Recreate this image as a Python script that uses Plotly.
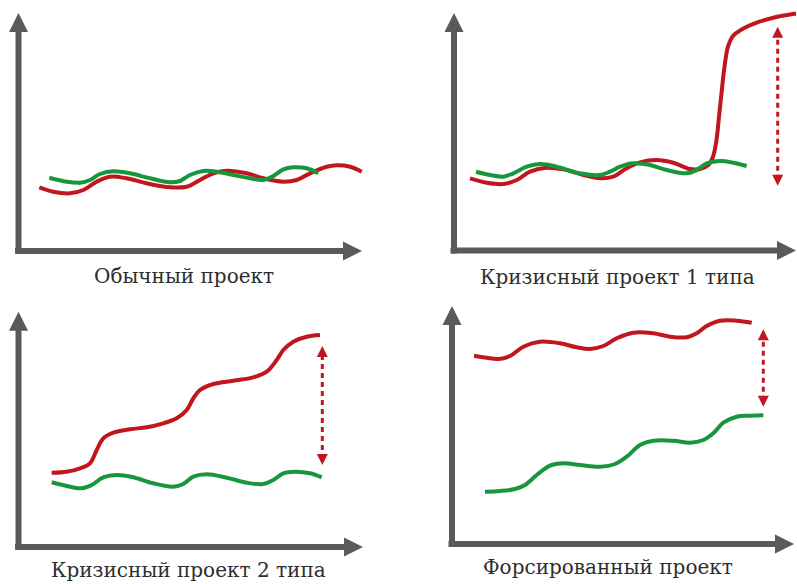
import plotly.graph_objects as go

# ---------------- data (1 unit ~ 1 px from axis origin) ----
# Panel 1: "Обычный проект"
p1_red_x = [20.8, 34.8, 51.5, 64.8, 78.2, 91.5, 108.2, 128.2, 151.5, 168.2, 181.5, 194.8, 208.2, 228.2, 244.8, 264.8, 278.2, 291.5, 308.2, 318.2, 331.5, 343.2]
p1_red_y = [63.7, 59.3, 57.7, 61.0, 69.3, 74.3, 72.7, 67.7, 63.7, 64.3, 71.0, 77.7, 80.3, 77.7, 72.7, 69.3, 71.0, 77.7, 84.3, 85.7, 84.3, 79.3]
p1_green_x = [30.8, 48.2, 61.5, 71.5, 81.5, 94.8, 111.5, 131.5, 151.5, 161.5, 171.5, 184.8, 198.2, 214.8, 231.5, 244.8, 254.8, 264.8, 274.8, 288.2, 299.8]
p1_green_y = [73.3, 69.3, 68.3, 71.0, 77.0, 79.7, 77.7, 72.7, 68.7, 70.0, 76.0, 80.0, 79.3, 76.0, 72.7, 71.0, 75.0, 81.7, 83.7, 82.7, 77.7]

# Panel 2: "Кризисный проект 1 типа"
p2_red_x = [16.0, 32.7, 49.3, 62.7, 76.0, 92.7, 109.3, 129.3, 146.0, 159.3, 172.7, 186.0, 202.7, 219.3, 236.0, 246.0, 254.3, 259.0, 262.5, 265.0, 267.5, 270.5, 274.0, 279.0, 288.0, 302.7, 319.3, 342.0]
p2_red_y = [72.2, 67.8, 66.5, 70.5, 78.8, 82.8, 81.2, 75.5, 72.2, 73.8, 82.2, 88.2, 90.5, 87.8, 81.5, 81.5, 85.5, 93.8, 110.5, 133.8, 157.2, 183.8, 203.8, 214.5, 221.2, 227.8, 232.8, 237.0]
p2_green_x = [22.0, 36.0, 49.3, 59.3, 72.7, 86.0, 102.7, 122.7, 146.0, 156.0, 166.0, 179.3, 196.0, 212.7, 232.7, 242.7, 252.7, 266.0, 279.3, 292.7]
p2_green_y = [78.8, 75.5, 73.8, 77.2, 83.8, 86.5, 83.8, 77.8, 75.5, 78.8, 83.8, 87.2, 85.5, 80.5, 77.2, 80.5, 87.2, 89.5, 87.8, 84.5]
p2_gap_x = [323.7, 323.7]
p2_gap_y = [64.8, 223.8]

# Panel 3: "Кризисный проект 2 типа"
p3_red_x = [33.2, 48.2, 61.5, 71.5, 78.2, 84.8, 94.8, 111.5, 128.2, 144.8, 158.2, 168.2, 174.8, 181.5, 194.8, 214.8, 234.8, 248.2, 258.2, 264.8, 274.8, 288.2, 301.5]
p3_red_y = [74.3, 75.3, 78.7, 83.7, 97.0, 108.7, 114.3, 117.7, 119.7, 123.7, 128.7, 137.0, 148.7, 157.0, 163.0, 166.3, 169.7, 175.3, 187.0, 197.0, 205.3, 210.3, 212.0]
p3_green_x = [33.2, 48.2, 63.2, 73.2, 84.8, 98.2, 114.8, 134.8, 154.8, 164.8, 174.8, 188.2, 208.2, 228.2, 244.8, 254.8, 264.8, 276.5, 291.5, 303.2]
p3_green_y = [64.7, 61.0, 58.7, 62.0, 69.7, 72.0, 69.7, 63.7, 60.3, 63.0, 70.3, 72.7, 69.3, 64.3, 63.0, 67.0, 73.7, 75.3, 73.7, 69.7]
p3_gap_x = [303.8, 303.8]
p3_gap_y = [82.0, 201.0]

# Panel 4: "Форсированный проект"
p4_red_x = [22.0, 34.7, 46.3, 58.0, 71.3, 88.0, 108.0, 124.7, 138.0, 151.3, 164.7, 181.3, 201.3, 218.0, 234.7, 244.7, 254.7, 268.0, 284.7, 299.7]
p4_red_y = [188.3, 186.3, 185.0, 188.0, 197.3, 202.3, 200.7, 196.7, 195.0, 198.0, 205.7, 211.3, 210.7, 207.3, 206.7, 210.7, 218.0, 223.3, 223.3, 221.3]
p4_green_x = [33.0, 48.0, 63.0, 73.0, 84.7, 98.0, 111.3, 128.0, 148.0, 163.0, 174.7, 188.0, 201.3, 221.3, 238.0, 251.3, 261.3, 271.3, 284.7, 298.0, 311.3]
p4_green_y = [52.3, 53.0, 55.0, 59.0, 69.0, 78.3, 80.7, 79.0, 77.3, 80.0, 87.3, 99.0, 103.3, 103.3, 101.3, 104.0, 110.7, 121.3, 127.3, 128.3, 128.7]
p4_gap_x = [311.3, 311.3]
p4_gap_y = [137.3, 214.7]

captions = ["Обычный проект", "Кризисный проект 1 типа", "Кризисный проект 2 типа", "Форсированный проект"]

# ---------------- layout constants ----------------
FW, FH = 797, 584
RED = "#c1161e"
GREEN = "#17963b"
GRAY = "#5a5a5a"
TEXT = "#2e2e2e"

panels = [
    dict(ox=18.5, oy=251.0, xt=362.0, yt=13.0, cx=184, cy=276,
         red=(p1_red_x, p1_red_y), green=(p1_green_x, p1_green_y), gap=None),
    dict(ox=454.0, oy=250.5, xt=796.0, yt=13.0, cx=617, cy=277,
         red=(p2_red_x, p2_red_y), green=(p2_green_x, p2_green_y), gap=(p2_gap_x, p2_gap_y)),
    dict(ox=18.5, oy=547.0, xt=363.0, yt=311.7, cx=188, cy=570,
         red=(p3_red_x, p3_red_y), green=(p3_green_x, p3_green_y), gap=(p3_gap_x, p3_gap_y)),
    dict(ox=452.0, oy=544.0, xt=794.0, yt=306.0, cx=608, cy=567,
         red=(p4_red_x, p4_red_y), green=(p4_green_x, p4_green_y), gap=(p4_gap_x, p4_gap_y)),
]

fig = go.Figure()
layout_axes = {}
annotations = []

for i, p in enumerate(panels, start=1):
    xa = "x" if i == 1 else f"x{i}"
    ya = "y" if i == 1 else f"y{i}"
    ox, oy, xt, yt = p["ox"], p["oy"], p["xt"], p["yt"]
    W, H = xt - ox, oy - yt
    lo_x, hi_x = max(0, ox - 14), min(FW, xt + 4)
    bot_y, top_y = min(FH, oy + 14), max(0, yt - 4)
    axis_common = dict(showgrid=False, zeroline=False, showticklabels=False, ticks="",
                       showline=False, fixedrange=True)
    layout_axes[("xaxis" if i == 1 else f"xaxis{i}")] = dict(
        domain=[lo_x / FW, hi_x / FW], range=[lo_x - ox, hi_x - ox], anchor=ya, **axis_common)
    layout_axes[("yaxis" if i == 1 else f"yaxis{i}")] = dict(
        domain=[1 - bot_y / FH, 1 - top_y / FH], range=[oy - bot_y, oy - top_y], anchor=xa, **axis_common)

    # axes with arrowheads
    fig.add_trace(go.Scatter(x=[0, 0], y=[-3, H - 12], xaxis=xa, yaxis=ya, mode="lines",
                             line=dict(color=GRAY, width=6), hoverinfo="skip", showlegend=False))
    fig.add_trace(go.Scatter(x=[-3.5, W - 12], y=[0, 0], xaxis=xa, yaxis=ya, mode="lines",
                             line=dict(color=GRAY, width=6), hoverinfo="skip", showlegend=False))
    fig.add_trace(go.Scatter(x=[0, W], y=[H, 0], xaxis=xa, yaxis=ya, mode="markers",
                             marker=dict(symbol=["arrow-up", "arrow-right"], size=19, color=GRAY),
                             cliponaxis=False, hoverinfo="skip", showlegend=False))

    rx, ry = p["red"]
    gx, gy = p["green"]
    if i in (1, 2):
        order = [(rx, ry, RED), (gx, gy, GREEN)]
    else:
        order = [(gx, gy, GREEN), (rx, ry, RED)]
    for cx_, cy_, col in order:
        fig.add_trace(go.Scatter(x=cx_, y=cy_, xaxis=xa, yaxis=ya, mode="lines",
                                 line=dict(color=col, width=4, shape="spline", smoothing=1.0),
                                 hoverinfo="skip", showlegend=False))

    if p["gap"] is not None:
        gpx, gpy = p["gap"]
        fig.add_trace(go.Scatter(x=gpx, y=[gpy[0] + 6, gpy[1] - 6], xaxis=xa, yaxis=ya, mode="lines",
                                 line=dict(color=RED, width=3, dash="5px,4px"),
                                 hoverinfo="skip", showlegend=False))
        fig.add_trace(go.Scatter(x=gpx, y=gpy, xaxis=xa, yaxis=ya, mode="markers",
                                 marker=dict(symbol=["arrow-down", "arrow-up"], size=11, color=RED),
                                 cliponaxis=False, hoverinfo="skip", showlegend=False))

    annotations.append(dict(text=captions[i - 1], x=p["cx"] / FW, y=1 - p["cy"] / FH,
                            xref="paper", yref="paper", showarrow=False,
                            xanchor="center", yanchor="middle",
                            font=dict(family="DejaVu Serif, serif", size=20, color=TEXT)))

fig.update_layout(width=FW, height=FH, margin=dict(l=0, r=0, t=0, b=0),
                  paper_bgcolor="white", plot_bgcolor="rgba(0,0,0,0)",
                  showlegend=False, annotations=annotations, **layout_axes)

fig.write_html("out.html", config={"displayModeBar": False, "staticPlot": True},
               post_script="document.body.style.margin='0';document.body.style.overflow='hidden';")
